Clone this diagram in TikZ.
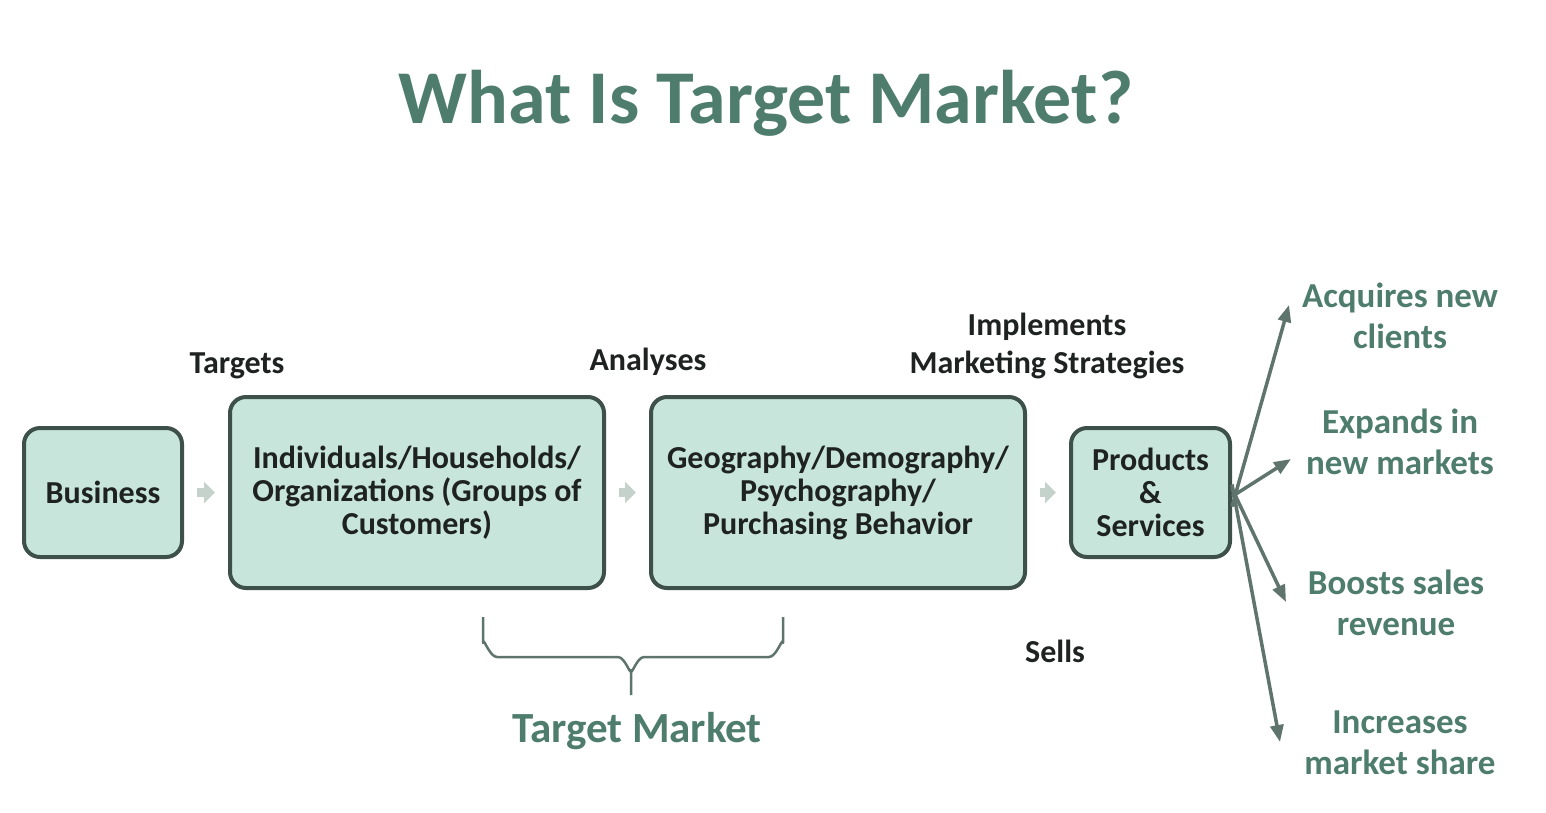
\documentclass[tikz,border=0pt]{standalone}
\usepackage{fontspec}
\setmainfont{Carlito}
\usetikzlibrary{arrows.meta}
\definecolor{boxline}{RGB}{62,80,74}
\definecolor{boxfill}{RGB}{199,229,219}
\definecolor{headgreen}{RGB}{78,125,109}
\definecolor{linkgray}{RGB}{96,116,110}
\definecolor{stepgray}{RGB}{196,210,203}
\definecolor{inktext}{RGB}{30,34,33}
\begin{document}
\begin{tikzpicture}[x=1pt,y=-1pt,
    box/.style={draw=boxline, fill=boxfill, line width=4, rounded corners=16,
      align=center, text=inktext, font=\fontsize{32}{33}\selectfont\bfseries},
    verb/.style={text=inktext, align=center, font=\fontsize{32}{38}\selectfont\bfseries},
    result/.style={text=headgreen, align=center, font=\fontsize{35}{41}\selectfont\bfseries},
    stepline/.style={draw=stepgray, line width=9, -{Triangle[length=11,width=21]},
      shorten <=13, shorten >=13},
    link/.style={draw=linkgray, line width=3.5, -{Triangle[length=17,width=13]}}]
    \useasboundingbox (0,0) rectangle (1546,812);
    \node[text=headgreen, font=\fontsize{76}{80}\selectfont\bfseries] (title) at (766,103) {What Is Target Market?};
    \node[box, minimum width=158, minimum height=129] (business) at (103,492.5) {Business};
    \node[box, minimum width=374, minimum height=191] (groups) at (417,492.5)
      {Individuals/Households/\\Organizations (Groups of\\Customers)};
    \node[box, minimum width=374, minimum height=191] (traits) at (838,492.5)
      {Geography/Demography/\\Psychography/\\Purchasing Behavior};
    \node[box, minimum width=159, minimum height=129] (products) at (1150.5,492.5)
      {Products\\\&\\Services};
    \draw[stepline] (business) -- (groups);
    \draw[stepline] (groups) -- (traits);
    \draw[stepline] (traits) -- (products);
    \node[verb] (targets) at (237,366) {Targets};
    \node[verb] (analyses) at (648,362) {Analyses};
    \node[verb] (implements) at (1047,346) {Implements\\Marketing Strategies};
    \node[verb] (sells) at (1055,651) {Sells};
    \draw[draw=linkgray, line width=2.5, line join=round]
      (483,617) -- (483,643) to[out=90,in=180] (497,657) -- (618,657)
      to[out=0,in=-90] (631,670) -- (631,695);
    \draw[draw=linkgray, line width=2.5, line join=round]
      (783,617) -- (783,643) to[out=90,in=0] (769,657) -- (644,657)
      to[out=180,in=-90] (631,670);
    \node[text=headgreen, font=\fontsize{43}{46}\selectfont\bfseries] (tmarket) at (637,731) {Target Market};
    \node[result] (clients) at (1400,316) {Acquires new\\clients};
    \node[result] (expands) at (1400,442) {Expands in\\new markets};
    \node[result] (revenue) at (1396,603) {Boosts sales\\revenue};
    \node[result] (share) at (1400,743) {Increases\\market share};
    \coordinate (tipa) at (1289,305);
    \coordinate (tipb) at (1291,459);
    \coordinate (tipc) at (1286,602);
    \coordinate (tipd) at (1280,742);
    \draw[link] ([yshift=-14]products.east) -- (tipa);
    \draw[link] ([yshift=-4]products.east) -- (tipb);
    \draw[link] ([yshift=4]products.east) -- (tipc);
    \draw[link] ([yshift=8]products.east) -- (tipd);
\end{tikzpicture}
\end{document}
